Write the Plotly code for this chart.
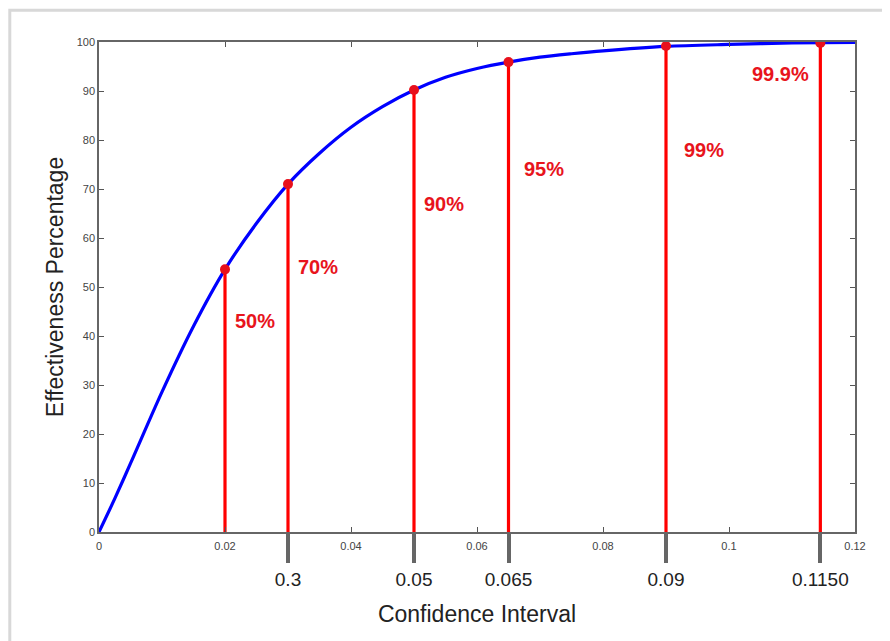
import plotly.graph_objects as go

# Curve data
ci = [0, 0.0025, 0.005, 0.01, 0.015, 0.02, 0.025, 0.03, 0.035, 0.04, 0.045, 0.05,
      0.055, 0.06, 0.065, 0.07, 0.075, 0.08, 0.09, 0.1, 0.11, 0.12]
eff = [0, 6.8, 14.0, 28.6, 42.0, 53.6, 63.0, 71.0, 77.3, 82.6, 86.8, 90.2,
       92.8, 94.6, 95.9, 96.9, 97.6, 98.2, 99.1, 99.5, 99.8, 99.9]

# Highlighted levels
stem_x = [0.02, 0.03, 0.05, 0.065, 0.09, 0.1145]
stem_y = [53.6, 71.0, 90.2, 95.9, 99.2, 99.8]
stem_labels = ["50%", "70%", "90%", "95%", "99%", "99.9%"]

# Secondary bottom tick labels
sec_tick_x = [0.03, 0.05, 0.065, 0.09, 0.1145]
sec_tick_text = ["0.3", "0.05", "0.065", "0.09", "0.1150"]

main_ticks = [0, 0.02, 0.04, 0.06, 0.08, 0.1, 0.12]
y_ticks = list(range(0, 101, 10))

# label placement (annotation positions, not data)
label_y = [43, 54, 67, 74, 78, 93.5]
label_xshift = [8, 8, 8, 13, 16, -9]
label_anchor = ["left", "left", "left", "left", "left", "right"]

FONT = "Arial, Liberation Sans, sans-serif"

stems_x, stems_y = [], []
for xv, yv in zip(stem_x, stem_y):
    stems_x += [xv, xv, None]
    stems_y += [0, yv, None]

fig = go.Figure()
fig.add_trace(go.Scatter(x=ci, y=eff, mode="lines",
                         line=dict(color="#0000ff", width=3.2, shape="spline", smoothing=0.8),
                         hoverinfo="skip", showlegend=False))
fig.add_trace(go.Scatter(x=stems_x, y=stems_y, mode="lines",
                         line=dict(color="#ff0000", width=3.2),
                         hoverinfo="skip", showlegend=False))
fig.add_trace(go.Scatter(x=stem_x, y=stem_y, mode="markers", xaxis="x2",
                         marker=dict(color="#e8101c", size=10),
                         showlegend=False))

for xv, txt, yv, xs, anc in zip(stem_x, stem_labels, label_y, label_xshift, label_anchor):
    fig.add_annotation(x=xv, y=yv, text="<b>%s</b>" % txt, showarrow=False,
                       xanchor=anc, xshift=xs,
                       font=dict(family=FONT, size=20, color="#e8141c"))

# frame (soft border of the original picture)
fig.add_shape(type="rect", xref="paper", yref="paper",
              x0=-0.118, x1=1.2, y0=-0.4, y1=1.065,
              line=dict(color="#d8d8d8", width=3), layer="below")

fig.update_layout(
    width=890, height=641,
    margin=dict(l=91, r=43, t=34, b=117),
    paper_bgcolor="white", plot_bgcolor="white",
    xaxis=dict(range=[0, 0.12], tickvals=main_ticks, ticks="inside", ticklen=5,
               tickcolor="#555", showline=True, linecolor="#666", linewidth=1.5,
               mirror="ticks", showgrid=False, zeroline=False, ticklabelstandoff=3,
               tickfont=dict(family=FONT, size=11, color="#444")),
    xaxis2=dict(range=[0, 0.12], overlaying="x", anchor="y", side="bottom",
                tickvals=sec_tick_x, ticktext=sec_tick_text,
                ticks="outside", ticklen=30, tickwidth=4, tickcolor="#666",
                showline=False, showgrid=False, zeroline=False,
                tickfont=dict(family=FONT, size=19, color="#222"),
                title=dict(text="Confidence Interval", standoff=17,
                           font=dict(family=FONT, size=23, color="#222"))),
    yaxis=dict(range=[0, 100], tickvals=y_ticks, ticks="inside", ticklen=5,
               tickcolor="#555", showline=True, linecolor="#666", linewidth=1.5,
               mirror="ticks", showgrid=False, zeroline=False,
               tickfont=dict(family=FONT, size=11, color="#444"),
               title=dict(text="Effectiveness Percentage", standoff=7,
                          font=dict(family=FONT, size=23, color="#222"))),
)

fig.write_html("out.html")
